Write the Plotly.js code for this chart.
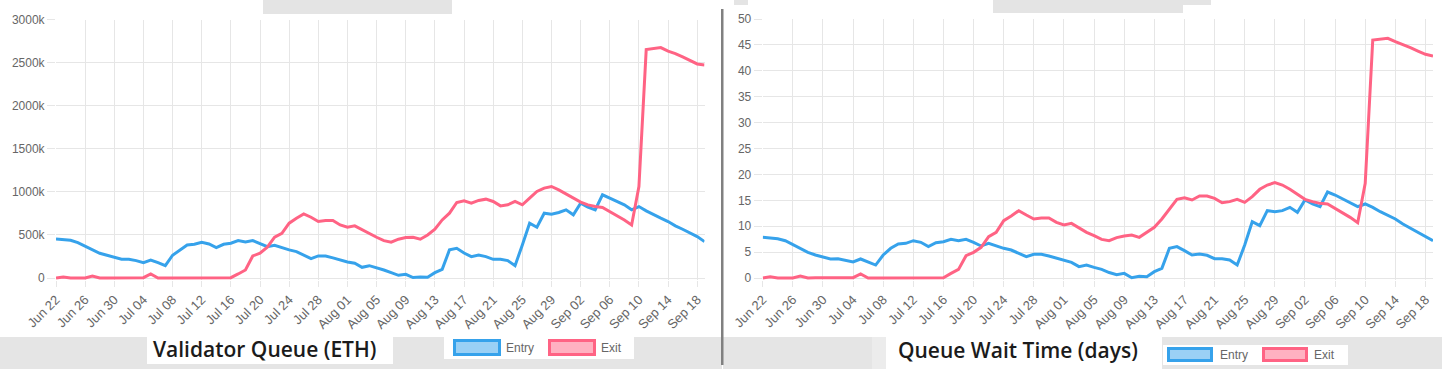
<!DOCTYPE html>
<html>
<head>
<meta charset="utf-8">
<script src="https://cdn.plot.ly/plotly-3.0.1.min.js"></script>
<style>html,body{margin:0;padding:0;background:#fff;}#chart{width:1442px;height:369px;}</style>
</head>
<body>
<div id="chart"></div>
<script>
// ---- data ----
const startDate = '2025-06-22';
const dayCount = 90;
// Validator queue, thousands of ETH
const entryQueueK = [453,442,438,411,372,326,287,264,240,217,
  217,202,178,209,178,143,264,326,384,391,
  415,395,353,391,403,434,419,434,403,364,
  380,349,326,306,267,225,256,256,233,209,
  186,171,124,143,120,93,62,31,43,5,
  12,8,62,101,326,345,290,248,267,248,
  217,217,202,143,384,636,589,752,740,760,
  791,733,868,822,791,965,926,888,849,791,
  829,779,733,694,655,605,566,527,481,422];
const exitQueueK = [0,12,0,0,0,23,0,0,1,2,
  2,3,4,47,0,1,1,2,2,3,
  3,3,3,2,4,47,93,256,287,357,
  473,519,636,694,744,705,655,667,667,616,
  589,605,558,512,473,434,415,450,469,473,
  450,500,566,674,752,876,895,868,900,915,
  888,837,849,888,849,926,1004,1043,1062,1023,
  977,926,880,849,829,818,771,721,674,616,
  1062,2651,2663,2674,2632,2605,2566,2523,2484,2473];
// Queue wait time, days
const entryWaitDays = [7.85,7.66,7.59,7.2,6.5,5.73,4.95,4.44,4.05,3.67,
  3.73,3.47,3.09,3.67,3.09,2.5,4.44,5.73,6.56,6.69,
  7.2,6.89,6.05,6.82,7.01,7.46,7.2,7.46,6.89,6.18,
  6.69,6.18,5.73,5.4,4.76,4.12,4.57,4.57,4.25,3.8,
  3.47,3.02,2.19,2.5,2.06,1.67,1.06,0.65,0.9,0.06,
  0.32,0.26,1.22,1.87,5.73,6.05,5.28,4.44,4.63,4.38,
  3.73,3.73,3.47,2.5,6.37,10.87,10.1,13.0,12.8,13.0,
  13.64,12.68,15.06,14.29,13.77,16.6,16.02,15.25,14.54,13.77,
  14.29,13.64,12.8,12.16,11.39,10.42,9.59,8.82,7.98,7.21];
const exitWaitDays = [0,0.26,0,0,0,0.39,0,0.03,0.03,0.05,
  0.05,0.05,0.06,0.77,0,0.02,0.03,0.04,0.05,0.05,
  0.05,0.05,0.05,0.04,0.05,0.9,1.67,4.31,4.95,5.92,
  7.98,8.82,11.07,11.97,13.0,12.16,11.39,11.58,11.58,10.75,
  10.23,10.55,9.72,8.82,8.17,7.46,7.2,7.79,8.1,8.3,
  7.85,8.75,9.78,11.39,13.26,15.19,15.5,15.06,15.83,15.83,
  15.38,14.54,14.74,15.19,14.6,15.7,17.12,17.95,18.4,17.95,
  17.12,16.2,15.19,14.74,14.41,14.29,13.45,12.6,11.71,10.68,
  18.28,45.95,46.07,46.27,45.62,45.1,44.47,43.82,43.18,42.86];
const queueTickVals = [0,500,1000,1500,2000,2500,3000];
const queueTickText = ['0','500k','1000k','1500k','2000k','2500k','3000k'];
const waitTickVals = [0,5,10,15,20,25,30,35,40,45,50];
const seriesNames = ['Entry','Exit'];
const titles = ['Validator Queue (ETH)','Queue Wait Time (days)'];

// ---- build dates ----
const dates = [];
{
  const d0 = new Date(startDate + 'T00:00:00Z');
  for (let i = 0; i < dayCount; i++) {
    const d = new Date(d0.getTime() + i*86400000);
    dates.push(d.toISOString().slice(0,10));
  }
}
const lastDate = dates[dates.length-1];

// ---- styling helpers ----
const W = 1442, H = 369;
const fx = p => p / W;
const fy = p => 1 - p / H;
const BLUE = '#36a2eb', RED = '#ff6384';
const BLUE_FILL = '#9ad0f5', RED_FILL = '#ffb1c1';
const GRID = '#e6e6e6';
const GREY = '#e5e5e5';
const tickFont = {family: '"Liberation Sans", Arial, sans-serif', size: 12, color: '#666'};
const xTickFont = {family: '"Liberation Sans", Arial, sans-serif', size: 13, color: '#666'};
const titleFont = {family:'"Open Sans", sans-serif', size:21, color:'#1b1b1b', weight:600};

function rect(x0, y0, x1, y1, fill, lineColor, lw) {
  return {type:'rect', xref:'paper', yref:'paper', layer:'above',
    x0: fx(x0), x1: fx(x1), y0: fy(y1), y1: fy(y0),
    fillcolor: fill, line: {width: lw || 0, color: lineColor || fill}};
}

const lineStyle = c => ({color: c, width: 3});
const traces = [
  {x: dates, y: entryQueueK, name: seriesNames[0], type:'scatter', mode:'lines', line: lineStyle(BLUE), xaxis:'x', yaxis:'y'},
  {x: dates, y: exitQueueK, name: seriesNames[1], type:'scatter', mode:'lines', line: lineStyle(RED), xaxis:'x', yaxis:'y'},
  {x: dates, y: entryWaitDays, name: seriesNames[0], type:'scatter', mode:'lines', line: lineStyle(BLUE), xaxis:'x2', yaxis:'y2'},
  {x: dates, y: exitWaitDays, name: seriesNames[1], type:'scatter', mode:'lines', line: lineStyle(RED), xaxis:'x2', yaxis:'y2'}
];

const xCommon = {
  type:'date', range:[startDate, lastDate], tickmode:'linear', tick0:startDate, dtick: 4*86400000,
  tickformat:'%b %d', tickangle:-45, showgrid:true, gridcolor:GRID, gridwidth:1,
  ticks:'outside', ticklen:6, tickcolor:GRID, tickfont:xTickFont, zeroline:false, showline:false, fixedrange:true
};
const yCommon = {
  showgrid:true, gridcolor:GRID, gridwidth:1, ticks:'outside', ticklen:8, tickcolor:GRID,
  tickfont:tickFont, zeroline:false, showline:false, fixedrange:true
};

// extend plot bottom by 2px below zero so the zero line isn't clipped
const leftPxPerUnit = (278 - 19.5) / 3000;
const rightPxPerUnit = (278 - 19) / 50;

const layout = {
  width: W, height: H, margin: {l:0, r:0, t:0, b:0},
  paper_bgcolor:'#fff', plot_bgcolor:'rgba(0,0,0,0)', showlegend:false,
  xaxis: Object.assign({}, xCommon, {domain:[fx(56), fx(704.5)], anchor:'y'}),
  yaxis: Object.assign({}, yCommon, {domain:[fy(280), fy(19.5)], anchor:'x',
    range:[-2/leftPxPerUnit, 3000], tickmode:'array', tickvals:queueTickVals, ticktext:queueTickText}),
  xaxis2: Object.assign({}, xCommon, {domain:[fx(762.7), fx(1433)], anchor:'y2'}),
  yaxis2: Object.assign({}, yCommon, {domain:[fy(280), fy(19)], anchor:'x2',
    range:[-2/rightPxPerUnit, 50], tickmode:'array', tickvals:waitTickVals, ticktext:waitTickVals.map(String)}),
  shapes: [
    // top grey tabs
    rect(263, 0, 452, 14, '#e4e4e4'),
    rect(734, 0, 748, 5, '#e4e4e4'),
    rect(1021, 0, 1211, 5, '#e4e4e4'),
    rect(993, 0, 1183, 13, '#e4e4e4'),
    // bottom band left
    rect(0, 337, 722, 369, GREY),
    rect(147, 335, 393, 364, '#ffffff'),
    rect(444, 337, 634, 359, '#ffffff'),
    // bottom band right
    rect(723, 337, 872, 369, GREY),
    rect(872, 337, 886, 369, '#ececec'),
    rect(1162, 337, 1442, 369, GREY),
    rect(1163, 345, 1348, 365, '#ffffff'),
    // divider
    rect(721, 9, 723.5, 365, '#808080'),
    // legend swatches left
    rect(454.5, 340.5, 499.5, 354.5, BLUE_FILL, BLUE, 3),
    rect(549.5, 340.5, 594.5, 354.5, RED_FILL, RED, 3),
    // legend swatches right
    rect(1168.5, 348.5, 1211.5, 360.5, BLUE_FILL, BLUE, 3),
    rect(1263.5, 348.5, 1306.5, 360.5, RED_FILL, RED, 3)
  ],
  annotations: [
    {text: titles[0], xref:'paper', yref:'paper', x: fx(151), y: fy(349), xanchor:'left', yanchor:'middle', showarrow:false, font:titleFont},
    {text: titles[1], xref:'paper', yref:'paper', x: fx(896), y: fy(350), xanchor:'left', yanchor:'middle', showarrow:false, font:titleFont},
    {text: seriesNames[0], xref:'paper', yref:'paper', x: fx(504), y: fy(347.5), xanchor:'left', yanchor:'middle', showarrow:false, font:tickFont},
    {text: seriesNames[1], xref:'paper', yref:'paper', x: fx(599), y: fy(347.5), xanchor:'left', yanchor:'middle', showarrow:false, font:tickFont},
    {text: seriesNames[0], xref:'paper', yref:'paper', x: fx(1218), y: fy(354.5), xanchor:'left', yanchor:'middle', showarrow:false, font:tickFont},
    {text: seriesNames[1], xref:'paper', yref:'paper', x: fx(1312), y: fy(354.5), xanchor:'left', yanchor:'middle', showarrow:false, font:tickFont}
  ]
};

Plotly.newPlot('chart', traces, layout, {displayModeBar:false, staticPlot:true});
</script>
</body>
</html>
